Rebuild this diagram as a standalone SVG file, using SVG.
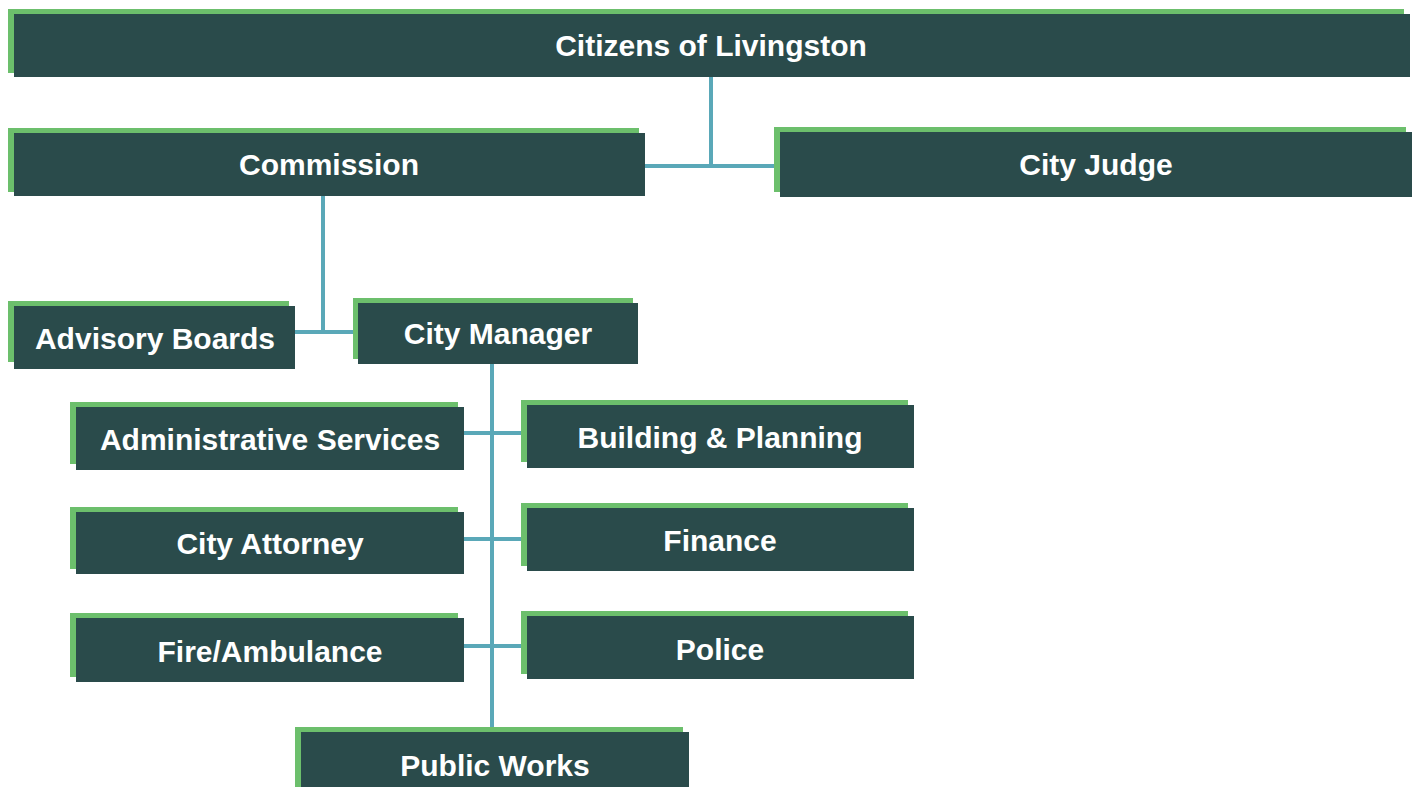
<svg xmlns="http://www.w3.org/2000/svg" width="1418" height="787" viewBox="0 0 1418 787">
<style>
.g{fill:#6cbf6c}
.d{fill:#2a4b4b}
.t{fill:#ffffff;font-family:"Liberation Sans",Arial,sans-serif;font-weight:bold;font-size:30px;text-anchor:middle}
.c{stroke:#5aa8b8;stroke-width:4;fill:none}
</style>
<rect width="1418" height="787" fill="#ffffff"/>
<g id="connectors">
<path class="c" d="M711 77V166M645 166H780"/>
<path class="c" d="M323 196V332M295 332H358"/>
<path class="c" d="M492 364V732"/>
<path class="c" d="M464 433H527M464 539H527M464 646H527"/>
</g>
<g id="citizens">
<rect class="g" x="8" y="9" width="1396" height="64"/>
<rect class="d" x="14" y="14" width="1396" height="63"/>
<text class="t" x="711" y="56">Citizens of Livingston</text>
</g>
<g id="commission">
<rect class="g" x="8" y="128" width="631" height="64"/>
<rect class="d" x="14" y="133" width="631" height="63"/>
<text class="t" x="329" y="175">Commission</text>
</g>
<g id="city-judge">
<rect class="g" x="774" y="127" width="632" height="65"/>
<rect class="d" x="780" y="132" width="632" height="65"/>
<text class="t" x="1096" y="175">City Judge</text>
</g>
<g id="advisory-boards">
<rect class="g" x="8" y="301" width="281" height="61"/>
<rect class="d" x="14" y="306" width="281" height="63"/>
<text class="t" x="155" y="349">Advisory Boards</text>
</g>
<g id="city-manager">
<rect class="g" x="353" y="298" width="280" height="61"/>
<rect class="d" x="358" y="303" width="280" height="61"/>
<text class="t" x="498" y="344">City Manager</text>
</g>
<g id="administrative-services">
<rect class="g" x="70" y="402" width="388" height="62"/>
<rect class="d" x="76" y="407" width="388" height="63"/>
<text class="t" x="270" y="450">Administrative Services</text>
</g>
<g id="building-planning">
<rect class="g" x="521" y="400" width="387" height="62"/>
<rect class="d" x="527" y="405" width="387" height="63"/>
<text class="t" x="720" y="448">Building &amp; Planning</text>
</g>
<g id="city-attorney">
<rect class="g" x="70" y="507" width="388" height="62"/>
<rect class="d" x="76" y="512" width="388" height="62"/>
<text class="t" x="270" y="554">City Attorney</text>
</g>
<g id="finance">
<rect class="g" x="521" y="503" width="387" height="63"/>
<rect class="d" x="527" y="508" width="387" height="63"/>
<text class="t" x="720" y="551">Finance</text>
</g>
<g id="fire-ambulance">
<rect class="g" x="70" y="613" width="388" height="64"/>
<rect class="d" x="76" y="618" width="388" height="64"/>
<text class="t" x="270" y="662">Fire/Ambulance</text>
</g>
<g id="police">
<rect class="g" x="521" y="611" width="387" height="63"/>
<rect class="d" x="527" y="616" width="387" height="63"/>
<text class="t" x="720" y="660">Police</text>
</g>
<g id="public-works">
<rect class="g" x="295" y="727" width="388" height="70"/>
<rect class="d" x="301" y="732" width="388" height="70"/>
<text class="t" x="495" y="776">Public Works</text>
</g>
</svg>
